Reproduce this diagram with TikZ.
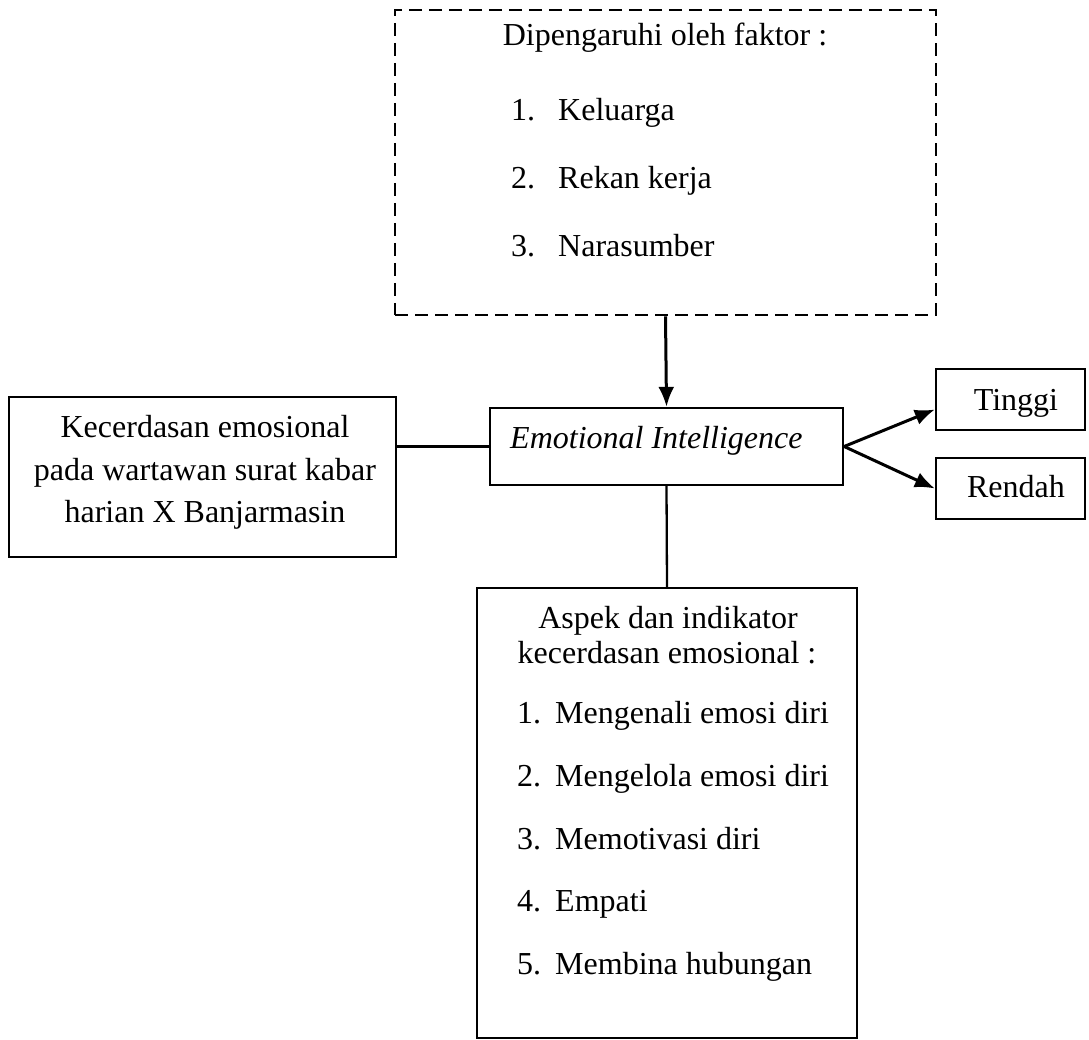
\documentclass[tikz,border=0pt]{standalone}
\usepackage{fontspec}
\setmainfont{Liberation Serif}
\usetikzlibrary{arrows.meta}
\tikzset{
  kotak/.style={draw,line width=2.3pt,inner sep=0pt},
  putus/.style={kotak,line width=2.6pt,dash pattern=on 13pt off 7pt},
  garis/.style={line width=2.3pt},
  panah/.style={line width=3pt,-{Latex[length=20pt,width=16pt]}},
  teks/.style={anchor=base,inner sep=0pt},
}
\begin{document}
\begin{tikzpicture}[x=1pt,y=-1pt,font=\fontsize{32}{41}\selectfont]
    \useasboundingbox (0,0) rectangle (1089,1040);
    % faktor yang mempengaruhi
    \node[putus,minimum width=541pt,minimum height=305pt] (faktor) at (665.5,162.5) {};
    \node[teks] (judul) at (665,46) {Dipengaruhi oleh faktor :};
    \foreach \i/\t/\y in {1/Keluarga/121,2/Rekan kerja/189,3/Narasumber/257} {
      \node[teks,anchor=base west] (fno\i) at (511,\y) {\i.};
      \node[teks,anchor=base west] (f\i) at (558,\y) {\t};
    }
    % kotak tengah
    \node[kotak,minimum width=353pt,minimum height=77pt] (ei) at (666.5,446.5) {};
    \node[teks,anchor=base west] (eiteks) at (510,448) {\itshape Emotional Intelligence};
    % kotak kiri
    \node[kotak,minimum width=387pt,minimum height=160pt] (kiri) at (202.5,477) {};
    \foreach \i/\t/\y in {1/Kecerdasan emosional/437,2/pada wartawan surat kabar/480,3/harian X Banjarmasin/522}
      \node[teks] (kiri\i) at (205,\y) {\t};
    % hasil
    \node[kotak,minimum width=149pt,minimum height=61pt] (tinggi) at (1010.5,399.5) {};
    \node[teks] (tinggiteks) at (1016,410) {Tinggi};
    \node[kotak,minimum width=149pt,minimum height=61pt] (rendah) at (1010.5,488.5) {};
    \node[teks] (rendahteks) at (1016,497) {Rendah};
    % aspek dan indikator
    \node[kotak,minimum width=380pt,minimum height=450pt] (aspek) at (667,813) {};
    \node[teks] (aspek1) at (668,628) {Aspek dan indikator};
    \node[teks] (aspek2) at (667,663) {kecerdasan emosional :};
    \foreach \i/\t/\y in {1/Mengenali emosi diri/723,2/Mengelola emosi diri/786,3/Memotivasi diri/849,4/Empati/911,5/Membina hubungan/974} {
      \node[teks,anchor=base west] (ano\i) at (517,\y) {\i.};
      \node[teks,anchor=base west] (a\i) at (555,\y) {\t};
    }
    \draw[panah] (faktor.south) -- (ei.north);
    \draw[garis] (ei.west) -- (ei.west -| kiri.east);
    \draw[garis] (ei.south) -- (aspek.north);
    \draw[panah] (ei.east) -- ([yshift=-10pt]tinggi.west);
    \draw[panah] (ei.east) -- (rendah.west);
\end{tikzpicture}
\end{document}
